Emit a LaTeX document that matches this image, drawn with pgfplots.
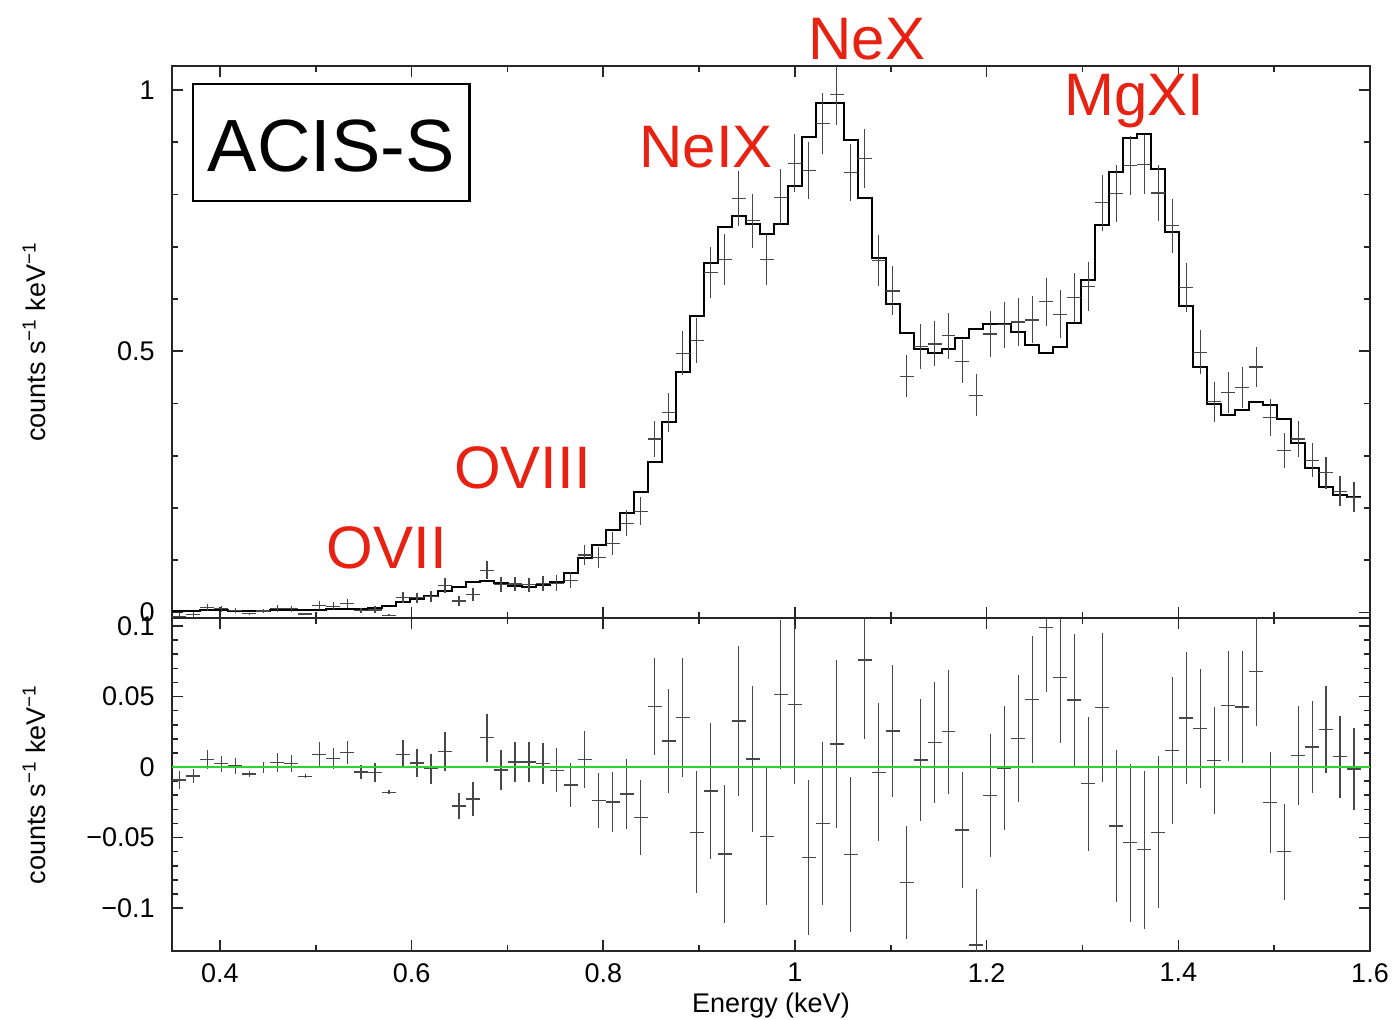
\documentclass[border=0pt]{standalone}
\usepackage{fontspec}
\setmainfont{Liberation Sans}
\usepackage{pgfplots}
\pgfplotsset{compat=1.18}
\usepackage{pgfplotstable}
\definecolor{annred}{RGB}{232,34,18}
\definecolor{fitgreen}{RGB}{40,215,40}

% model: left bin edge, counts/s/keV (last row closes the final bin)
\pgfplotstableread{
x      m
0.3503 0.002
0.3649 0.0025
0.3795 0.004
0.3941 0.0045
0.4087 0.003
0.4233 0.0025
0.4379 0.003
0.4524 0.004
0.4670 0.0045
0.4816 0.004
0.4962 0.0045
0.5108 0.006
0.5254 0.0065
0.5400 0.007
0.5546 0.009
0.5692 0.013
0.5838 0.0195
0.5984 0.025
0.6130 0.032
0.6275 0.041
0.6421 0.0495
0.6567 0.058
0.6713 0.060
0.6859 0.056
0.7005 0.051
0.7151 0.0495
0.7297 0.053
0.7443 0.058
0.7589 0.075
0.7735 0.105
0.7881 0.129
0.8027 0.157
0.8172 0.190
0.8318 0.230
0.8464 0.289
0.8610 0.365
0.8756 0.461
0.8902 0.567
0.9048 0.668
0.9194 0.738
0.9340 0.759
0.9486 0.744
0.9632 0.724
0.9778 0.744
0.9923 0.816
1.0069 0.910
1.0215 0.976
1.0361 0.976
1.0507 0.904
1.0653 0.793
1.0799 0.678
1.0945 0.590
1.1091 0.534
1.1237 0.504
1.1383 0.497
1.1529 0.505
1.1675 0.525
1.1820 0.542
1.1966 0.553
1.2112 0.552
1.2258 0.536
1.2404 0.512
1.2550 0.496
1.2696 0.5075
1.2842 0.555
1.2988 0.636
1.3134 0.742
1.3280 0.844
1.3426 0.909
1.3571 0.916
1.3717 0.849
1.3863 0.728
1.4009 0.587
1.4155 0.4705
1.4301 0.399
1.4447 0.378
1.4593 0.388
1.4739 0.402
1.4885 0.398
1.5031 0.370
1.5177 0.324
1.5323 0.277
1.5468 0.241
1.5614 0.225
1.5760 0.222
1.5906 0.222
}\model

% data: bin centre, rate, error, residual
\pgfplotstableread{
e      d      de     r
0.3576 -0.007 0.0064 -0.0092
0.3722 -0.004 0.0047 -0.0064
0.3868 0.009  0.0069 0.0052
0.4014 0.007  0.0057 0.0024
0.4160 0.004  0.0056 0.0007
0.4306 -0.0025 0.0024 -0.0050
0.4452 0.003  0.0040 -0.0003
0.4597 0.007  0.0069 0.0033
0.4743 0.007  0.0060 0.0026
0.4889 -0.003 0.0015 -0.0066
0.5035 0.0135 0.0085 0.0090
0.5181 0.012  0.0077 0.0061
0.5327 0.017  0.0083 0.0101
0.5473 0.0035 0.0052 -0.0035
0.5619 0.005  0.0067 -0.0036
0.5765 -0.005 0.0014 -0.0180
0.5911 0.0285 0.0100 0.0090
0.6057 0.028  0.0100 0.0028
0.6203 0.031  0.0106 -0.0012
0.6348 0.052  0.0140 0.0109
0.6494 0.022  0.0095 -0.0277
0.6640 0.035  0.0123 -0.0227
0.6786 0.081  0.0171 0.0208
0.6932 0.054  0.0142 -0.0021
0.7078 0.0545 0.0142 0.0035
0.7224 0.053  0.0140 0.0035
0.7370 0.0555 0.0147 0.0024
0.7516 0.056  0.0154 -0.0022
0.7662 0.062  0.0157 -0.0128
0.7808 0.110  0.0200 0.0054
0.7954 0.105  0.0195 -0.0239
0.8100 0.132  0.0216 -0.0248
0.8245 0.171  0.0246 -0.0191
0.8391 0.194  0.0266 -0.0357
0.8537 0.332  0.0343 0.0428
0.8683 0.383  0.0370 0.0184
0.8829 0.496  0.0420 0.0352
0.8975 0.521  0.0433 -0.0463
0.9121 0.651  0.0485 -0.0170
0.9267 0.676  0.0490 -0.0617
0.9413 0.792  0.0530 0.0326
0.9559 0.750  0.0517 0.0057
0.9705 0.675  0.0490 -0.0492
0.9851 0.795  0.0530 0.0515
0.9996 0.860  0.0560 0.0442
1.0142 0.846  0.0550 -0.0640
1.0288 0.936  0.0580 -0.0400
1.0434 0.992  0.0595 0.0163
1.0580 0.842  0.0550 -0.0620
1.0726 0.869  0.0560 0.0759
1.0872 0.674  0.0490 -0.0038
1.1018 0.6155 0.0470 0.0255
1.1164 0.452  0.0400 -0.0820
1.1310 0.509  0.0430 0.0050
1.1456 0.514  0.0430 0.0172
1.1602 0.530  0.0440 0.0250
1.1748 0.480  0.0410 -0.0447
1.1893 0.416  0.0400 -0.1262
1.2039 0.533  0.0437 -0.0201
1.2185 0.551  0.0440 -0.0010
1.2331 0.556  0.0450 0.0203
1.2477 0.560  0.0450 0.0480
1.2623 0.595  0.0460 0.0990
1.2769 0.571  0.0460 0.0634
1.2915 0.6025 0.0470 0.0475
1.3061 0.624  0.0475 -0.0118
1.3207 0.784  0.0530 0.0423
1.3353 0.802  0.0540 -0.0418
1.3499 0.855  0.0560 -0.0537
1.3644 0.857  0.0560 -0.0586
1.3790 0.803  0.0540 -0.0463
1.3936 0.740  0.0520 0.0116
1.4082 0.622  0.0470 0.0348
1.4228 0.498  0.0420 0.0272
1.4374 0.4035 0.0380 0.0045
1.4520 0.4215 0.0390 0.0435
1.4666 0.4306 0.0400 0.0426
1.4812 0.470  0.0390 0.0678
1.4958 0.373  0.0360 -0.0253
1.5104 0.310  0.0340 -0.0600
1.5250 0.332  0.0350 0.0080
1.5396 0.291  0.0325 0.0142
1.5541 0.2675 0.0310 0.0265
1.5687 0.232  0.0290 0.0073
1.5833 0.2206 0.0290 -0.0014
}\spec

\pgfplotsset{
  xspec/.style={
    scale only axis, width=599pt,
    xmin=0.35, xmax=1.6,
    xtick={0.4,0.6,0.8,1,1.2,1.4,1.6}, minor x tick num=1,
    tick align=inside,
    major tick length=5.5pt, minor tick length=3pt,
    axis line style={line width=0.8pt, black!85},
    tick style={line width=0.8pt, black!85},
    tick label style={font=\fontsize{13.5}{16}\selectfont},
    label style={font=\fontsize{13.5}{16}\selectfont},
    yticklabel style={inner sep=0pt, xshift=-8.5pt},
    xticklabel style={inner sep=0pt, yshift=-6pt},
    ylabel style={at={(axis description cs:-0.1052,0.5)}, anchor=base},
    ylabel={counts s\textsuperscript{−1} keV\textsuperscript{−1}},
  },
  errs/.style={black!72, only marks, mark=text, text mark={},
    error bars/.cd, y dir=both, y explicit, x dir=both, x fixed=0.0073,
    error mark=none, error bar style={line width=0.6pt}},
}
\tikzset{lbl/.style={annred, anchor=base, font=\fontsize{30}{36}\selectfont}}

\begin{document}
\begin{tikzpicture}
\path[use as bounding box] (0,0) rectangle (697pt,-509.5pt);

\begin{axis}[xspec, at={(86pt,-33pt)}, anchor=north west, height=276pt,
  ymin=-0.0105, ymax=1.0459,
  ytick={0,0.5,1}, yticklabels={0,0.5,1}, minor y tick num=4,
  xticklabels={}, clip mode=individual]
\addplot[black, line width=1pt, const plot] table[x=x, y=m]{\model};
\addplot[errs] table[x=e, y=d, y error=de]{\spec};
\draw[line width=1.2pt] (axis cs:0.3719,1.0115) rectangle (axis cs:0.6604,0.7876);
\node[anchor=base, font=\fontsize{37}{44}\selectfont] at (axis cs:0.5161,0.8431) {ACIS-S};
\node[lbl] at (axis cs:1.075,1.0574) {NeX};
\node[lbl] at (axis cs:1.354,0.952) {MgXI};
\node[lbl] at (axis cs:0.9073,0.8526) {NeIX};
\node[lbl] at (axis cs:0.7156,0.2383) {OVIII};
\node[lbl] at (axis cs:0.574,0.0852) {OVII};
\end{axis}

\begin{axis}[xspec, at={(86pt,-309pt)}, anchor=north west, height=166.5pt,
  ymin=-0.1305, ymax=0.1057,
  ytick={-0.1,-0.05,0,0.05,0.1}, yticklabels={−0.1,−0.05,0,0.05,0.1},
  minor y tick num=4,
  xticklabels={0.4,0.6,0.8,1,1.2,1.4,1.6},
  xlabel={Energy (keV)},
  xlabel style={at={(axis description cs:0.5,0)}, anchor=base, yshift=-30.5pt}]
\addplot[errs] table[x=e, y=r, y error=de]{\spec};
\addplot[fitgreen, line width=0.8pt] coordinates {(0.35,0) (1.6,0)};
\end{axis}
\end{tikzpicture}
\end{document}
